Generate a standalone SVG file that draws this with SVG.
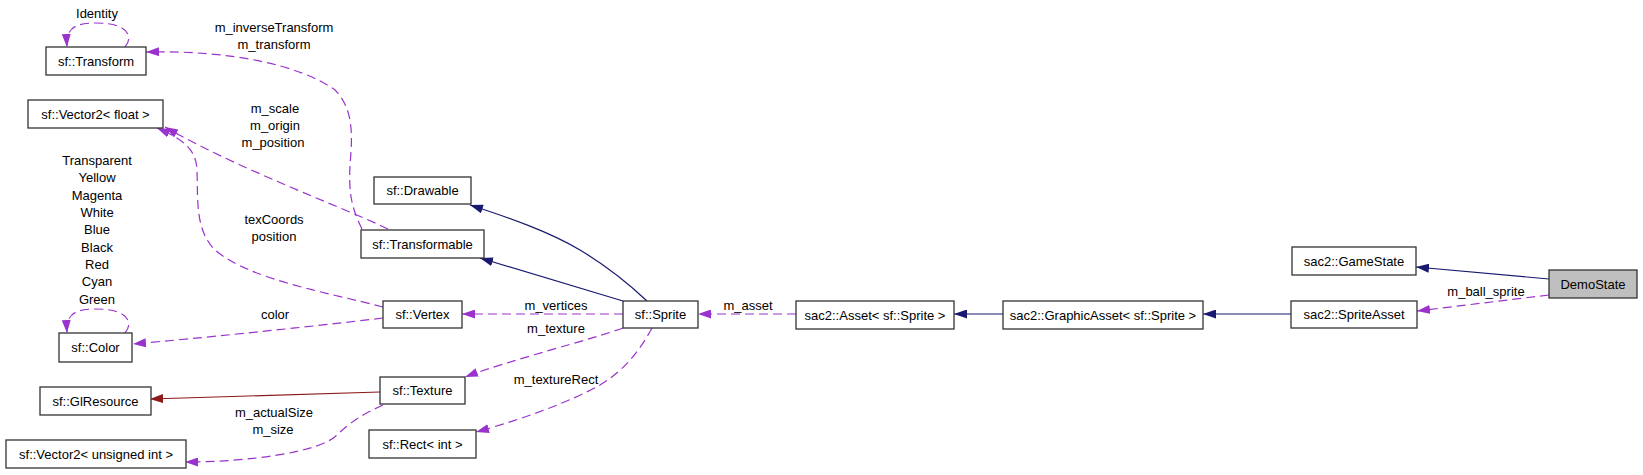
<svg xmlns="http://www.w3.org/2000/svg" width="1643" height="475" viewBox="0 0 1643 475">
<style>
.n rect{fill:#fff;stroke:#333;stroke-width:1.3}
.n.g rect{fill:#bfbfbf}
text{font-family:"Liberation Sans",Arial,Helvetica,sans-serif;font-size:13px;fill:#000}
.n text{text-anchor:middle}
.l{text-anchor:middle}
.e path{fill:none;stroke-width:1.2}
.inh{stroke:#191970;marker-end:url(#aNavy)}
.use{stroke:#9a32cd;stroke-dasharray:9,5;marker-end:url(#aPurple)}
.priv{stroke:#8b1a1a;marker-end:url(#aRed)}
</style>
<defs>
<marker id="aNavy" markerUnits="userSpaceOnUse" markerWidth="13" markerHeight="9" refX="13" refY="4.5" orient="auto"><path d="M0,0 L13,4.5 L0,9 z" fill="#191970"/></marker>
<marker id="aPurple" markerUnits="userSpaceOnUse" markerWidth="13" markerHeight="9" refX="13" refY="4.5" orient="auto"><path d="M0,0 L13,4.5 L0,9 z" fill="#9a32cd"/></marker>
<marker id="aRed" markerUnits="userSpaceOnUse" markerWidth="13" markerHeight="9" refX="13" refY="4.5" orient="auto"><path d="M0,0 L13,4.5 L0,9 z" fill="#8b1a1a"/></marker>
</defs>
<rect width="1643" height="475" fill="#fff"/>
<g id="connectors" class="e">
<path class="use" d="M125,47 C133,38 130,23 96,23 C72,23 66,30 67,47"/>
<path class="use" d="M125,333 C133,324 130,309 96,309 C72,309 66,316 67,333"/>
<path class="use" d="M362,229 C350,205 349,190 350,165 C352,140 355,110 335,90 C300,65 230,50 146,52"/>
<path class="use" d="M388,229 C345,208 240,170 165,127"/>
<path class="use" d="M383,307 C330,293 250,280 215,250 C195,230 198,200 197,170 C196,150 185,140 157,128"/>
<path class="use" d="M383,318 C300,328 200,338 133,344"/>
<path class="priv" d="M380,392 L150,399"/>
<path class="use" d="M383,405 C365,413 350,422 337,435 C320,452 250,462 185,462"/>
<path class="use" d="M623,314 L462,314"/>
<path class="use" d="M623,328 C590,340 510,360 465,377"/>
<path class="use" d="M652,328 C640,350 625,370 600,385 C570,402 520,420 476,432"/>
<path class="inh" d="M647,301 C630,285 610,268 580,250 C550,232 510,218 470,205"/>
<path class="inh" d="M623,301 L480,258"/>
<path class="use" d="M796,314 L698,314"/>
<path class="inh" d="M1003,314 L954,314"/>
<path class="inh" d="M1291,314 L1203,314"/>
<path class="inh" d="M1549,279 L1416,267"/>
<path class="use" d="M1549,295 L1417,311"/>
</g>
<g id="labels">
<text class="l" x="97" y="17.5">Identity</text>
<text class="l" x="274" y="31.5">m_inverseTransform</text>
<text class="l" x="274" y="48.5">m_transform</text>
<text class="l" x="275" y="112.5">m_scale</text>
<text class="l" x="275" y="129.5">m_origin</text>
<text class="l" x="273" y="146.5">m_position</text>
<text class="l" x="97" y="164.5">Transparent</text>
<text class="l" x="97" y="182">Yellow</text>
<text class="l" x="97" y="199.5">Magenta</text>
<text class="l" x="97" y="216.5">White</text>
<text class="l" x="97" y="234">Blue</text>
<text class="l" x="97" y="251.5">Black</text>
<text class="l" x="97" y="268.5">Red</text>
<text class="l" x="97" y="286">Cyan</text>
<text class="l" x="97" y="303.5">Green</text>
<text class="l" x="274" y="223.5">texCoords</text>
<text class="l" x="274" y="241">position</text>
<text class="l" x="275" y="318.5">color</text>
<text class="l" x="274" y="416.5">m_actualSize</text>
<text class="l" x="273" y="433.5">m_size</text>
<text class="l" x="556" y="309.5">m_vertices</text>
<text class="l" x="556" y="332.5">m_texture</text>
<text class="l" x="556" y="383.5">m_textureRect</text>
<text class="l" x="748" y="309.5">m_asset</text>
<text class="l" x="1486" y="295.5">m_ball_sprite</text>
</g>
<g id="n_transform" class="n"><rect x="46" y="47" width="100" height="28"/><text x="96" y="65.5">sf::Transform</text></g>
<g id="n_vec2f" class="n"><rect x="28" y="100" width="135" height="28"/><text x="95.5" y="118.5">sf::Vector2&lt; float &gt;</text></g>
<g id="n_color" class="n"><rect x="59" y="333" width="73" height="29"/><text x="95.5" y="352">sf::Color</text></g>
<g id="n_glresource" class="n"><rect x="40" y="387" width="111" height="28"/><text x="95.5" y="405.5">sf::GlResource</text></g>
<g id="n_vec2u" class="n"><rect x="6" y="440" width="180" height="28"/><text x="96" y="458.5">sf::Vector2&lt; unsigned int &gt;</text></g>
<g id="n_drawable" class="n"><rect x="374" y="177" width="97" height="27"/><text x="422.5" y="195">sf::Drawable</text></g>
<g id="n_transformable" class="n"><rect x="361" y="230" width="123" height="28"/><text x="422.5" y="248.5">sf::Transformable</text></g>
<g id="n_vertex" class="n"><rect x="383" y="301" width="79" height="27"/><text x="422.5" y="319">sf::Vertex</text></g>
<g id="n_texture" class="n"><rect x="380" y="377" width="85" height="27"/><text x="422.5" y="395">sf::Texture</text></g>
<g id="n_rect" class="n"><rect x="369" y="430" width="107" height="28"/><text x="422.5" y="448.5">sf::Rect&lt; int &gt;</text></g>
<g id="n_sprite" class="n"><rect x="623" y="301" width="75" height="27"/><text x="660.5" y="319">sf::Sprite</text></g>
<g id="n_asset" class="n"><rect x="796" y="301" width="158" height="28"/><text x="875" y="319.5">sac2::Asset&lt; sf::Sprite &gt;</text></g>
<g id="n_graphicasset" class="n"><rect x="1003" y="301" width="200" height="28"/><text x="1103" y="319.5">sac2::GraphicAsset&lt; sf::Sprite &gt;</text></g>
<g id="n_gamestate" class="n"><rect x="1292" y="247" width="124" height="28"/><text x="1354" y="265.5">sac2::GameState</text></g>
<g id="n_spriteasset" class="n"><rect x="1291" y="301" width="126" height="27"/><text x="1354" y="319">sac2::SpriteAsset</text></g>
<g id="n_demostate" class="n g"><rect x="1549" y="270" width="88" height="28"/><text x="1593" y="288.5">DemoState</text></g>
</svg>
